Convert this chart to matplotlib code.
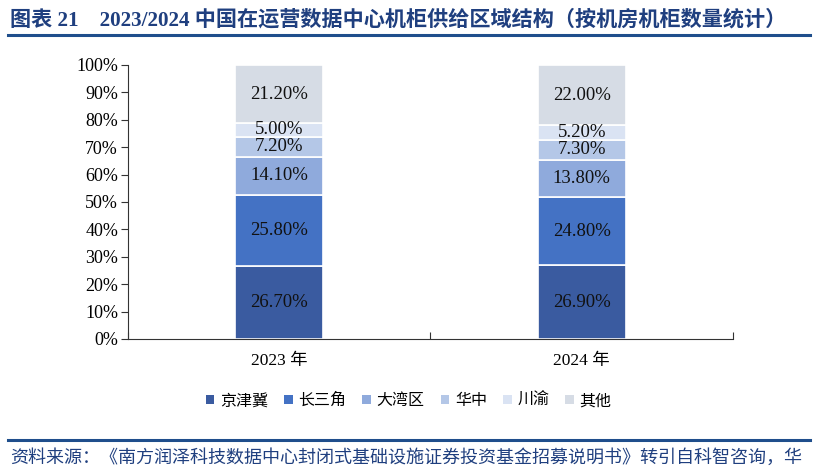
import matplotlib
matplotlib.use("Agg")
import matplotlib.pyplot as plt
from matplotlib.lines import Line2D
from matplotlib.patches import Patch
import numpy as np

categories = ["2023 年", "2024 年"]
series_names = ["京津冀", "长三角", "大湾区", "华中", "川渝", "其他"]
jingjinji = [26.7, 26.9]
changsanjiao = [25.8, 24.8]
dawanqu = [14.1, 13.8]
huazhong = [7.2, 7.3]
chuanyu = [5.0, 5.2]
qita = [21.2, 22.0]
yticks = [0, 10, 20, 30, 40, 50, 60, 70, 80, 90, 100]

colors = ["#3A5BA0", "#4472C4", "#8FAADC", "#B4C7E7", "#DAE3F3", "#D6DCE5"]
FAM = ["Liberation Serif", "Noto Sans CJK SC"]
plt.rcParams['font.family'] = FAM

fig = plt.figure(figsize=(8.14, 4.71), dpi=100)
ax = fig.add_axes([0.157, 0.2803, 0.7435, 0.5817])

series = [jingjinji, changsanjiao, dawanqu, huazhong, chuanyu, qita]
x = np.arange(len(categories))
bottom = np.zeros(len(categories))
for name, vals, c in zip(series_names, series, colors):
    vals = np.array(vals)
    ax.bar(x, vals, bottom=bottom, width=0.29, color=c, edgecolor="white", linewidth=1.2, label=name)
    for xi, v, b in zip(x, vals, bottom):
        ax.text(xi, b + v / 2, f"{v:.2f}%", ha="center", va="center", fontsize=13.5,
                family="Liberation Serif", color="#111111")
    bottom += vals

ax.set_xlim(-0.5, 1.5)
ax.set_ylim(0, 100)
ax.set_yticks(yticks)
ax.set_yticklabels([f"{t}%" for t in yticks], fontsize=13, family="Liberation Serif")
ax.set_xticks([-0.5, 0.5, 1.5], minor=False)
ax.set_xticklabels([])
ax.set_xticks(x, minor=True)
ax.set_xticklabels(categories, minor=True, fontsize=12.5)
ax.tick_params(axis="x", which="minor", length=0, pad=10)
ax.tick_params(axis="x", which="major", direction="in", length=5, color="#333333")
ax.tick_params(axis="y", direction="out", length=5, color="#333333", pad=2)
for s in ["top", "right"]:
    ax.spines[s].set_visible(False)
ax.spines["left"].set_color("#333333")
ax.spines["bottom"].set_color("#333333")

handles = [Patch(facecolor=c, edgecolor="none") for c in colors]
fig.legend(handles, series_names, loc="center", bbox_to_anchor=(0.502, 0.148), ncol=6,
           frameon=False, handlelength=0.55, handleheight=0.55,
           handletextpad=0.35, columnspacing=1.0, prop={"family": FAM, "size": 11.5})

fig.text(0.012, 0.958, "图表 21    2023/2024 中国在运营数据中心机柜供给区域结构（按机房机柜数量统计）",
         fontsize=15.2, fontweight="bold", color="#1F3F7F", va="center", ha="left")
fig.add_artist(Line2D([0.01, 0.995], [0.926, 0.926], color="#1F4E8C", linewidth=2.2, transform=fig.transFigure))
fig.add_artist(Line2D([0.01, 0.995], [0.066, 0.066], color="#1F4E8C", linewidth=2.2, transform=fig.transFigure))
fig.text(0.012, 0.028, "资料来源：《南方润泽科技数据中心封闭式基础设施证券投资基金招募说明书》转引自科智咨询，华",
         fontsize=13, style="italic", color="#1F3F7F", va="center", ha="left")

fig.savefig("out.png", dpi=100)
